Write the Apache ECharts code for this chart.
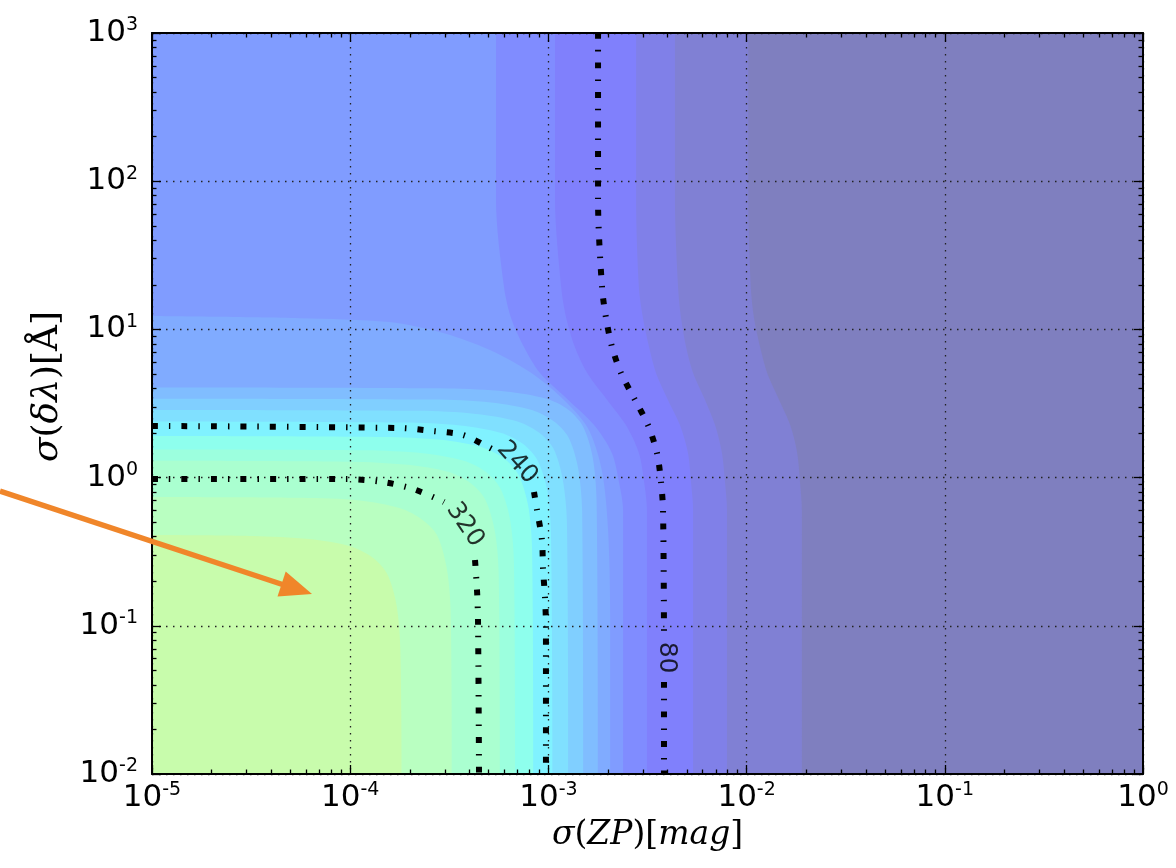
<!DOCTYPE html>
<html lang="en">
<head>
<meta charset="UTF-8">
<title></title>
<script src="https://cdn.jsdelivr.net/npm/echarts@6/dist/echarts.min.js"></script>
<style>
  html, body { margin: 0; padding: 0; background: #fff; }
  #chart { width: 1176px; height: 868px; }
</style>
</head>
<body>
<div id="chart"></div>
<script>
// axis decades
var xTicks = [1e-5, 1e-4, 1e-3, 1e-2, 1e-1, 1];
var yTicks = [1e-2, 1e-1, 1, 10, 100, 1000];

// filled-contour boundaries [sigma(ZP), sigma(dlambda)], outermost first.
// everything left of / below a boundary is the next band inwards.
var edgeD = [[1e-5,1000],[1.02e-2,1000],[1.02e-2,74.7],[1.05e-2,19.3],[1.09e-2,11.94],[1.17e-2,7.61],[1.27e-2,5.08],[1.46e-2,3.34],[1.66e-2,2.26],[1.80e-2,1.466],[1.86e-2,0.934],[1.90e-2,0.605],[1.90e-2,0.01]];
var edgeC = [[1e-5,1000],[4.35e-3,1000],[4.35e-3,74.7],[4.51e-3,19.3],[4.67e-3,11.94],[4.95e-3,7.61],[5.37e-3,5.08],[6.17e-3,3.34],[6.93e-3,2.26],[7.51e-3,1.466],[7.78e-3,0.934],[7.96e-3,0.605],[7.96e-3,0.01]];
var edgeB = [[1e-5,1000],[2.77e-3,1000],[2.77e-3,74.7],[2.86e-3,19.3],[3.0e-3,11.94],[3.22e-3,7.61],[3.49e-3,5.08],[4.01e-3,3.34],[4.61e-3,2.26],[5.06e-3,1.466],[5.24e-3,0.934],[5.37e-3,0.605],[5.37e-3,0.01]];
var edgeA = [[1e-5,1000],[1.08e-3,1000],[1.08e-3,74.7],[1.16e-3,19.3],[1.23e-3,11.94],[1.36e-3,7.61],[1.57e-3,5.08],[1.98e-3,3.34],[2.46e-3,2.26],[2.86e-3,1.466],[3.04e-3,0.934],[3.14e-3,0.605],[3.14e-3,0.01]];
var edgeTL = [[1e-5,1000],[5.44e-4,1000],[5.44e-4,74.7],[5.97e-4,19.3],[6.48e-4,11.94],[7.53e-4,7.61],[9.07e-4,5.08],[1.26e-3,3.34],[1.70e-3,2.26],[2.09e-3,1.466],[2.27e-3,0.934],[2.38e-3,0.605],[2.38e-3,0.01]];
var edge10 = [[1e-5,12.3],[5.58e-5,11.9],[1.57e-4,11.2],[2.94e-4,9.46],[5.07e-4,7.26],[8.07e-4,5.15],[1.17e-3,3.44],[1.58e-3,2.16],[1.86e-3,1.12],[2.0e-3,0.443],[2.05e-3,0.109],[2.05e-3,0.01]];
var edge9 = [[1e-5,4.05],[3.1e-4,3.99],[6.09e-4,3.81],[9.79e-4,3.4],[1.26e-3,2.87],[1.49e-3,2.23],[1.67e-3,1.39],[1.75e-3,0.7],[1.78e-3,0.01]];
var edge8 = [[1e-5,3.41],[2.61e-4,3.36],[5.13e-4,3.21],[8.25e-4,2.86],[1.06e-3,2.41],[1.26e-3,1.88],[1.41e-3,1.17],[1.48e-3,0.59],[1.5e-3,0.01]];
var edge7 = [[1e-5,2.86],[2.19e-4,2.82],[4.31e-4,2.69],[6.93e-4,2.4],[8.92e-4,2.02],[1.06e-3,1.57],[1.18e-3,0.98],[1.24e-3,0.5],[1.26e-3,0.01]];
var edge6 = [[1e-5,2.39],[1.83e-4,2.35],[3.59e-4,2.25],[5.78e-4,2.0],[7.43e-4,1.69],[8.81e-4,1.31],[9.87e-4,0.82],[1.03e-3,0.42],[1.05e-3,0.01]];
var edge5 = [[1e-5,1.91],[1.46e-4,1.88],[2.87e-4,1.8],[4.62e-4,1.6],[5.95e-4,1.35],[7.05e-4,1.05],[7.9e-4,0.65],[8.27e-4,0.33],[8.4e-4,0.01]];
var edge4 = [[1e-5,1.55],[1.18e-4,1.53],[2.33e-4,1.46],[3.74e-4,1.3],[4.81e-4,1.1],[5.71e-4,0.85],[6.39e-4,0.53],[6.7e-4,0.27],[6.8e-4,0.01]];
var edge3 = [[1e-5,1.3],[9.9e-5,1.28],[1.95e-4,1.22],[3.14e-4,1.09],[4.04e-4,0.92],[4.78e-4,0.72],[5.36e-4,0.44],[5.61e-4,0.23],[5.7e-4,0.01]];
var edge2 = [[1e-5,0.74],[5.7e-5,0.73],[1.11e-4,0.70],[1.79e-4,0.62],[2.31e-4,0.52],[2.74e-4,0.41],[3.06e-4,0.25],[3.21e-4,0.13],[3.26e-4,0.01]];
var edge1 = [[1e-5,0.41],[3.2e-5,0.404],[6.2e-5,0.385],[1.0e-4,0.344],[1.29e-4,0.29],[1.53e-4,0.226],[1.71e-4,0.14],[1.79e-4,0.071],[1.82e-4,0.01]];

var edges = [edgeD, edgeC, edgeB, edgeA, edgeTL, edge10, edge9, edge8, edge7, edge6, edge5, edge4, edge3, edge2, edge1];
// jet at alpha 0.5 over white
var outsideColor = '#7f7fbf';
var bandColors = ['#8080d4', '#8080e8', '#8080fc', '#808cff', '#809cff', '#80abff', '#80bdff', '#80cfff',
                  '#80e0ff', '#80f2ff', '#8effed', '#9cffde', '#aaffd0', '#b9ffc1', '#c8fcac'];

// labelled contour lines, split where the label sits
var line80a = [[1.78e-3,1000],[1.78e-3,74.7],[1.864e-3,19.3],[1.953e-3,11.94],[2.094e-3,7.61],[2.324e-3,5.08],[2.735e-3,3.34],[3.18e-3,2.26],[3.53e-3,1.466],[3.70e-3,0.934],[3.787e-3,0.605],[3.83e-3,0.0867]];
var line80b = [[3.83e-3,0.0418],[3.83e-3,0.01]];
var line240a = [[1e-5,2.23],[1.784e-4,2.16],[2.617e-4,2.06],[3.708e-4,1.94],[4.957e-4,1.61],[5.19e-4,1.56]];
var line240b = [[8.46e-4,0.80],[8.76e-4,0.605],[9.28e-4,0.379],[9.39e-4,0.245],[9.61e-4,0.156],[9.72e-4,0.098],[9.72e-4,0.01]];
var line320a = [[1e-5,0.978],[9.41e-5,0.978],[1.464e-4,0.934],[2.074e-4,0.838],[2.838e-4,0.706],[2.973e-4,0.684]];
var line320b = [[4.263e-4,0.278],[4.363e-4,0.1744],[4.414e-4,0.1094],[4.466e-4,0.01]];
var contourLabels = [['80', 3.96e-3, 0.061], ['240', 6.95e-4, 1.26], ['320', 3.79e-4, 0.48]];
var labelAngles = [-90, -48, -56];

function minorOf(ticks) {
    var out = [];
    for (var i = 0; i < ticks.length - 1; i++) {
        for (var k = 2; k <= 9; k++) out.push(ticks[i] * k);
    }
    return out;
}

var black = '#000';
var tickFont = 'DejaVu Sans';
var mathFont = 'DejaVu Serif';
var powRich = {
    b: { fontFamily: tickFont, fontSize: 31, lineHeight: 34, color: black },
    s: { fontFamily: tickFont, fontSize: 19, lineHeight: 16, verticalAlign: 'top', color: black }
};
function powLabel(v) {
    return '{b|10}{s|' + Math.round(Math.log(v) / Math.LN10) + '}';
}
function mathRich(size) {
    return {
        i: { fontFamily: mathFont, fontStyle: 'italic', fontSize: size, color: black },
        n: { fontFamily: mathFont, fontSize: size, color: black }
    };
}

function edgeAxis(dim, pos, grid, ticks, len, withLine) {
    var a = {
        gridIndex: grid, type: 'log', logBase: 10, position: pos, z: 3,
        min: dim === 'x' ? 1e-5 : 1e-2, max: dim === 'x' ? 1 : 1000,
        axisLine: { show: withLine, onZero: false, lineStyle: { color: black, width: 2 } },
        axisTick: { show: true, inside: true, length: len, customValues: ticks, lineStyle: { color: black, width: 1.3 } },
        axisLabel: { show: false },
        splitLine: { show: false }
    };
    return a;
}

var xMain = edgeAxis('x', 'bottom', 0, xTicks, 9, true);
xMain.axisLabel = { show: true, customValues: xTicks, formatter: powLabel, rich: powRich, margin: 7 };
xMain.splitLine = { show: true, lineStyle: { color: '#222', width: 1.3, type: [1.5, 5.5] } };
xMain.name = '{i|σ}{n|(}{i|ZP}{n|)[}{i|mag}{n|]}';
xMain.nameLocation = 'middle';
xMain.nameGap = 45;
xMain.nameTextStyle = { rich: mathRich(33) };

var yMain = edgeAxis('y', 'left', 0, yTicks, 9, true);
yMain.axisLabel = { show: true, customValues: yTicks, formatter: powLabel, rich: powRich, margin: 14 };
yMain.splitLine = { show: true, lineStyle: { color: '#222', width: 1.3, type: [1.5, 5.5] } };
yMain.name = '{i|σ}{n|(}{i|δλ}{n|)[Å]}';
yMain.nameLocation = 'middle';
yMain.nameGap = 86;
yMain.nameTextStyle = { rich: mathRich(36), padding: [0, 0, 0, 34] };

var series = [];
edges.forEach(function (e, i) {
    series.push({
        type: 'line', xAxisIndex: 0, yAxisIndex: 0, data: e, symbol: 'none', smooth: 0.3,
        silent: true, z: 1, lineStyle: { width: 0, opacity: 0 },
        areaStyle: { color: bandColors[i], opacity: 1, origin: 0.01 }
    });
});
[line80a, line80b, line240a, line240b, line320a, line320b].forEach(function (l) {
    series.push({
        type: 'line', xAxisIndex: 0, yAxisIndex: 0, data: l, symbol: 'none', smooth: 0.3,
        silent: true, z: 4, lineStyle: { color: black, width: 6, type: [6, 11, 1.5, 11], cap: 'butt' }
    });
});
contourLabels.forEach(function (c, i) {
    series.push({
        type: 'scatter', xAxisIndex: 0, yAxisIndex: 0, symbolSize: 0, silent: true, z: 5,
        data: [[c[1], c[2]]],
        label: { show: true, position: 'inside', formatter: c[0], rotate: labelAngles[i],
                 fontFamily: tickFont, fontSize: 25, color: black }
    });
});

var chart = echarts.init(document.getElementById('chart'));
chart.setOption({
    animation: false,
    backgroundColor: '#fff',
    grid: [
        { left: 152, top: 33, right: 33, bottom: 94, show: true, backgroundColor: outsideColor, borderWidth: 0 },
        { left: 152, top: 33, right: 33, bottom: 94 }
    ],
    xAxis: [
        xMain,
        edgeAxis('x', 'top', 0, xTicks, 9, true),
        edgeAxis('x', 'bottom', 1, minorOf(xTicks), 4.5, false),
        edgeAxis('x', 'top', 1, minorOf(xTicks), 4.5, false)
    ],
    yAxis: [
        yMain,
        edgeAxis('y', 'right', 0, yTicks, 9, true),
        edgeAxis('y', 'left', 1, minorOf(yTicks), 4.5, false),
        edgeAxis('y', 'right', 1, minorOf(yTicks), 4.5, false)
    ],
    series: series,
    graphic: [
        { type: 'line', z: 10, shape: { x1: 0, y1: 491, x2: 284, y2: 585 }, style: { stroke: '#f0862a', lineWidth: 5.5 } },
        { type: 'polygon', z: 10, shape: { points: [[312, 594], [277.5, 596.4], [285.7, 571.6]] }, style: { fill: '#f0862a' } }
    ]
});
</script>
</body>
</html>
